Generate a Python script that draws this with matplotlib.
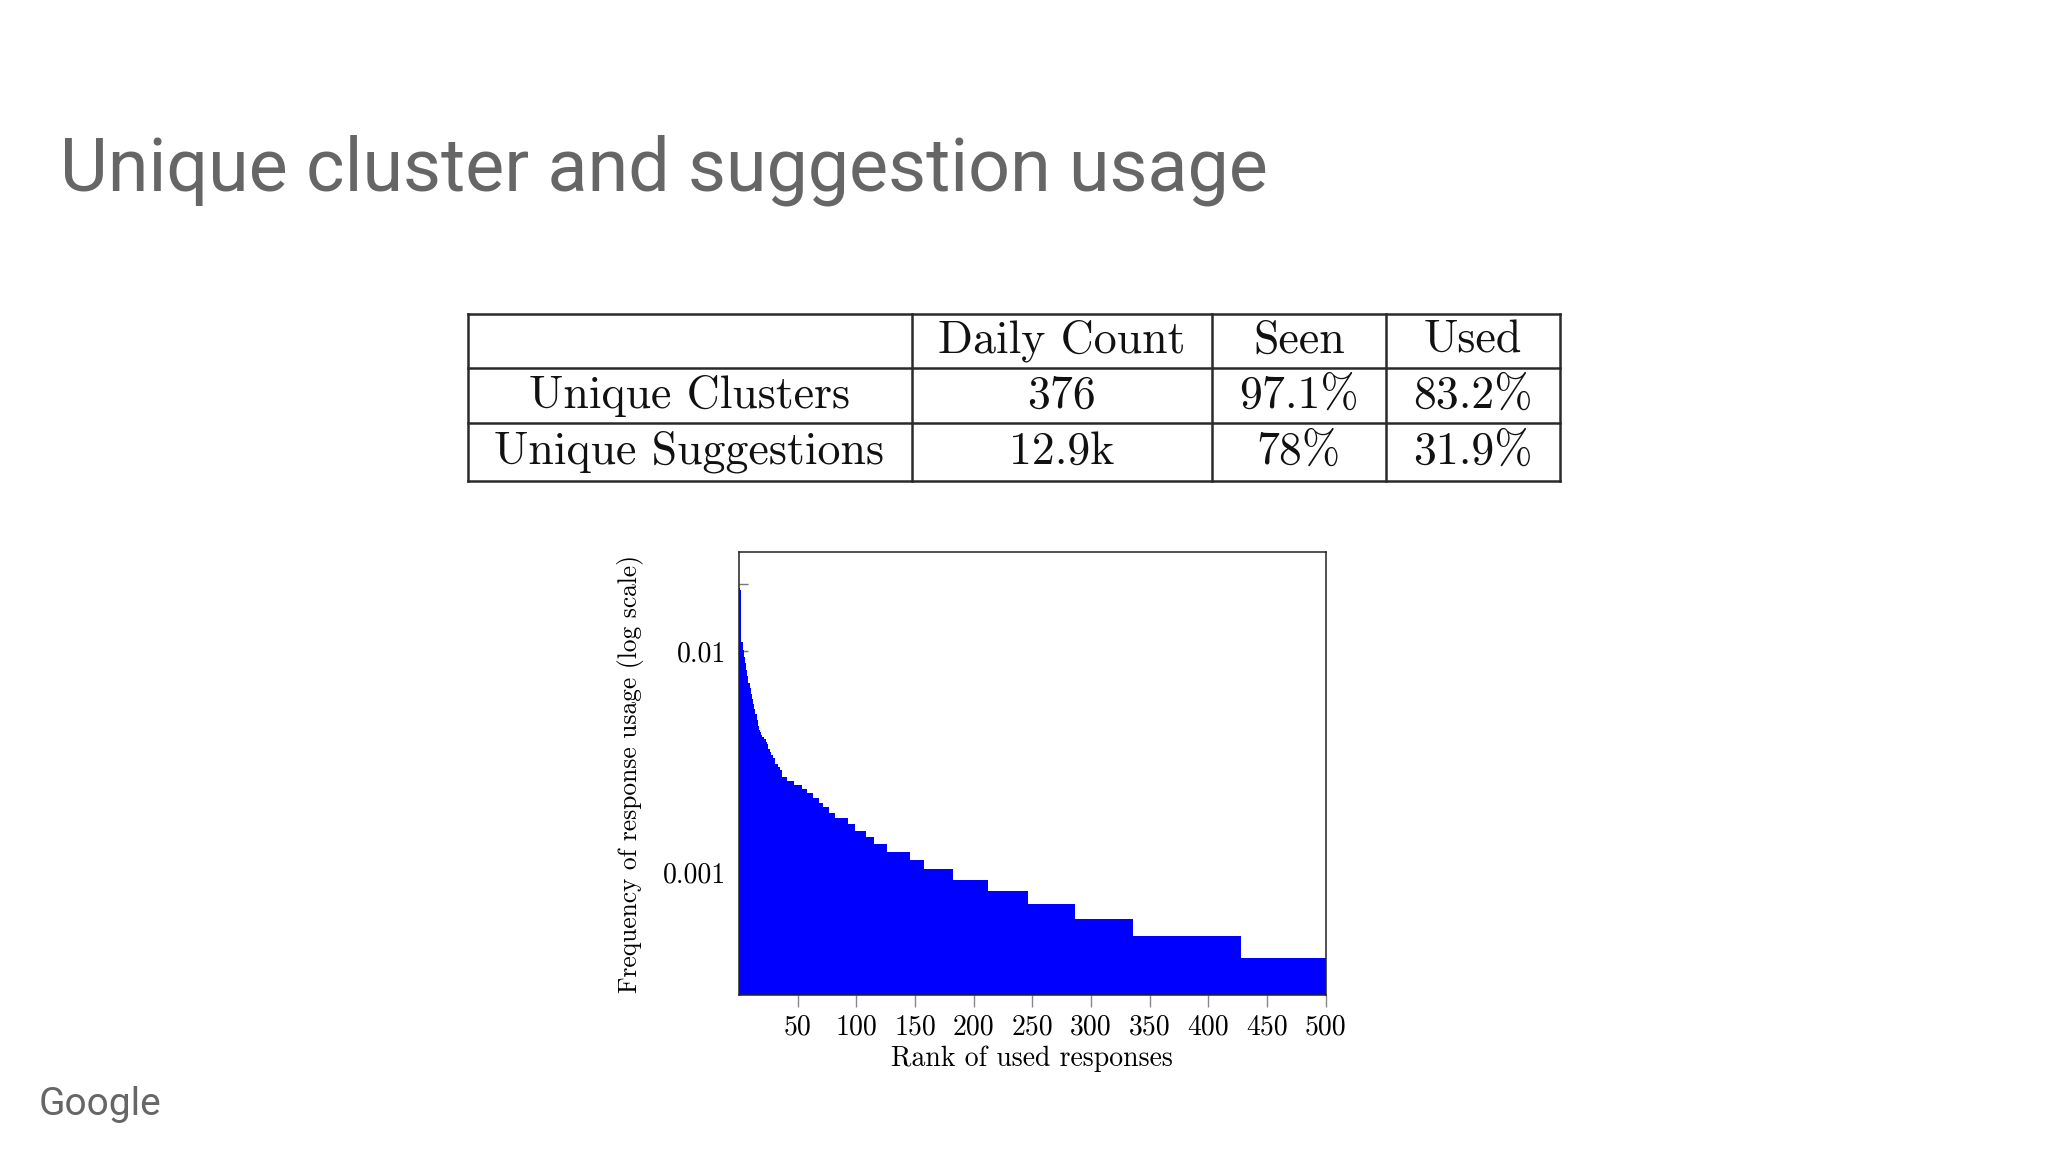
import numpy as np
import matplotlib
matplotlib.use("Agg")
import matplotlib.pyplot as plt
from matplotlib.ticker import FixedLocator, NullFormatter

# Slide text
title = "Unique cluster and suggestion usage"
footer = "Google"

# Table contents
table_header = ["", "Daily Count", "Seen", "Used"]
row_names = ["Unique Clusters", "Unique Suggestions"]
daily_count = ["376", "12.9k"]
seen_pct = ["97.1%", "78%"]
used_pct = ["83.2%", "31.9%"]

# Usage frequency of the top ranks, one value per rank (rank 1..37)
head_freq = [0.0192, 0.0188, 0.0110, 0.0101, 0.0094, 0.0088, 0.0082, 0.0077,
             0.0072, 0.0068, 0.0064, 0.0061, 0.0058, 0.0055, 0.0052, 0.0049,
             0.0046, 0.0044, 0.0043, 0.0042, 0.0041, 0.0040, 0.0040, 0.0039,
             0.0038, 0.0036, 0.0035, 0.0034, 0.0034, 0.0033, 0.0033, 0.0031,
             0.0031, 0.0030, 0.0030, 0.0029, 0.0029]
# Remaining ranks come in flat steps: rank edges and the level of each step
step_edges = [37, 41, 47, 54, 58, 63, 68, 72, 77, 82, 93, 99, 108, 115, 126,
              146, 158, 182, 212, 246, 286, 336, 428, 500]
step_freq = [0.00269, 0.00259, 0.00248, 0.00238, 0.00228, 0.00217, 0.00207,
             0.00197, 0.00186, 0.00176, 0.00166, 0.00155, 0.00145, 0.00135,
             0.00124, 0.00114, 0.00104, 0.00093, 0.00083, 0.00072, 0.00062,
             0.00052, 0.000414]

x_ticks = [50, 100, 150, 200, 250, 300, 350, 400, 450, 500]
y_ticks = [0.001, 0.01]
y_ticklabels = ["0.001", "0.01"]

serif = ["cmr10", "DejaVu Serif"]
plt.rcParams["axes.unicode_minus"] = False

fig = plt.figure(figsize=(20.48, 11.52), dpi=100)
fig.patch.set_facecolor("white")

# full-figure canvas in pixel units for slide text and the table
bg = fig.add_axes([0, 0, 1, 1])
bg.set_xlim(0, 2048)
bg.set_ylim(1152, 0)
bg.axis("off")

bg.text(60, 190, title, fontsize=53, family="Roboto", color="#666666",
        va="baseline", ha="left")
bg.text(39, 1115, footer, fontsize=28, family="Roboto", color="#666666",
        va="baseline", ha="left")

# table grid
col_x = [467.5, 911.6, 1212, 1385.7, 1559.5]
row_y = [313.5, 368.3, 423.2, 480.6]
for y in row_y:
    bg.plot([col_x[0], col_x[-1]], [y, y], color="#2a2a2a", lw=1.8,
            solid_capstyle="projecting")
for x in col_x:
    bg.plot([x, x], [row_y[0], row_y[-1]], color="#2a2a2a", lw=1.8,
            solid_capstyle="projecting")

rows = [table_header] + [[row_names[i], daily_count[i], seen_pct[i], used_pct[i]]
                         for i in range(len(row_names))]
for r, cells in enumerate(rows):
    yb = (row_y[r] + row_y[r + 1]) / 2 + 12
    for c, txt in enumerate(cells):
        xc = (col_x[c] + col_x[c + 1]) / 2
        bg.text(xc, yb, txt, fontsize=33, family=serif, color="#111111",
                ha="center", va="baseline")

# chart
ax = fig.add_axes([739 / 2048, (1152 - 995) / 1152, 586.6 / 2048, 442.6 / 1152])
edges = np.concatenate([np.arange(len(head_freq) + 1), step_edges[1:]])
freq = np.concatenate([head_freq, step_freq])
ax.stairs(freq, edges, fill=True, color="#0000ff", baseline=1e-5, zorder=2)

ax.set_yscale("log")
ax.set_xlim(0, 500)
ax.set_ylim(2.81e-4, 0.02786)

ax.xaxis.set_major_locator(FixedLocator(x_ticks))
ax.set_xticklabels([str(v) for v in x_ticks], family=serif, fontsize=20)
ax.yaxis.set_major_locator(FixedLocator(y_ticks))
ax.set_yticklabels(y_ticklabels, family=serif, fontsize=20)
ax.yaxis.set_minor_locator(FixedLocator([0.02]))
ax.yaxis.set_minor_formatter(NullFormatter())
ax.xaxis.set_minor_locator(FixedLocator([]))

ax.tick_params(axis="x", which="major", direction="out", length=8.5,
               width=1, color="#888888", pad=5)
ax.tick_params(axis="y", which="both", direction="in", length=6.5,
               width=1, color="#777777", pad=9, right=False)

for s in ax.spines.values():
    s.set_color("#222222")
    s.set_linewidth(1.1)
    s.set_zorder(3)

ax.set_xlabel("Rank of used responses", family=serif, fontsize=20, labelpad=4)
ax.set_ylabel("Frequency of response usage (log scale)", family=serif,
              fontsize=18.3, labelpad=14)

fig.savefig("out.png", dpi=100, facecolor="white")
